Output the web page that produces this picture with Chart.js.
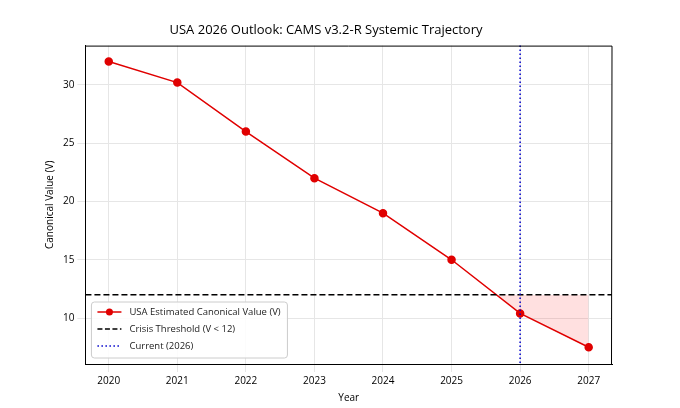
<!DOCTYPE html>
<html><head><meta charset="utf-8">
<script src="https://cdn.jsdelivr.net/npm/chart.js@4"></script>
<style>body{margin:0;background:#fff}#w{width:680px;height:408px}</style>
</head><body><div id="w"><canvas id="c"></canvas></div>
<script>
const years = [2020, 2021, 2022, 2023, 2024, 2025, 2026, 2027];
const values = [32, 30.2, 26, 22, 19, 15, 10.4, 7.5];
const threshold = 12;
const currentYear = 2026;
const legendLabels = ['USA Estimated Canonical Value (V)', 'Crisis Threshold (V < 12)', 'Current (2026)'];

const lines = {
  id: 'lines',
  afterDatasetsDraw(chart) {
    const {ctx, chartArea: a, scales: {x, y}} = chart;
    ctx.save();
    ctx.lineWidth = 1.5;
    ctx.strokeStyle = '#000';
    ctx.setLineDash([6, 3]);
    const ty = y.getPixelForValue(threshold);
    ctx.beginPath(); ctx.moveTo(a.left, ty); ctx.lineTo(a.right, ty); ctx.stroke();
    ctx.strokeStyle = '#0000cc';
    ctx.setLineDash([1.5, 2.5]);
    const cx = x.getPixelForValue(currentYear);
    ctx.beginPath(); ctx.moveTo(cx, a.top); ctx.lineTo(cx, a.bottom); ctx.stroke();
    // frame top/right
    ctx.setLineDash([]);
    ctx.strokeStyle = '#000'; ctx.lineWidth = 1;
    ctx.beginPath(); ctx.moveTo(a.left, a.top + 0.5); ctx.lineTo(a.right, a.top + 0.5); ctx.lineTo(a.right - 0.5, a.bottom); ctx.stroke();
    // legend
    const lx = a.left + 6, ly = a.bottom - 62;
    ctx.fillStyle = 'rgba(255,255,255,0.85)';
    ctx.strokeStyle = '#ccc'; ctx.lineWidth = 1;
    ctx.beginPath(); ctx.roundRect(lx, ly, 196, 56, 3); ctx.fill(); ctx.stroke();
    ctx.font = '9.5px "Open Sans"'; ctx.textBaseline = 'middle'; ctx.fillStyle = '#222';
    legendLabels.forEach((t, i) => {
      const yy = ly + 10 + i * 17;
      ctx.lineWidth = 1.5;
      if (i === 0) { ctx.strokeStyle = '#e00000'; ctx.setLineDash([]); }
      if (i === 1) { ctx.strokeStyle = '#000'; ctx.setLineDash([5, 2.5]); }
      if (i === 2) { ctx.strokeStyle = '#0000cc'; ctx.setLineDash([1.5, 2.5]); }
      ctx.beginPath(); ctx.moveTo(lx + 6, yy); ctx.lineTo(lx + 30, yy); ctx.stroke();
      if (i === 0) { ctx.fillStyle = '#e00000'; ctx.beginPath(); ctx.arc(lx + 18, yy, 3.5, 0, 7); ctx.fill(); ctx.fillStyle = '#222'; }
      ctx.fillText(t, lx + 38, yy);
    });
    ctx.restore();
  }
};

new Chart(document.getElementById('c'), {
  type: 'line',
  data: {
    datasets: [{
      data: years.map((yr, i) => ({x: yr, y: values[i]})),
      borderColor: '#e00000', backgroundColor: '#e00000',
      borderWidth: 1.5, pointRadius: 3.5, pointBackgroundColor: '#e00000',
      fill: {value: threshold, below: 'rgba(255,0,0,0.12)', above: 'rgba(0,0,0,0)'},
      tension: 0
    }]
  },
  options: {
    responsive: true, maintainAspectRatio: false, animation: false,
    layout: {padding: {left: 40, right: 68, top: 22, bottom: 0}},
    plugins: {
      legend: {display: false}, tooltip: {enabled: false},
      title: {display: true, text: 'USA 2026 Outlook: CAMS v3.2-R Systemic Trajectory',
        color: '#000', font: {family: 'Open Sans', size: 13, weight: 'normal'}, padding: {top: 0, bottom: 8}}
    },
    scales: {
      x: {type: 'linear', min: 2019.66, max: 2027.34,
        afterBuildTicks: s => { s.ticks = years.map(v => ({value: v})); },
        ticks: {color: '#000', font: {family: 'Open Sans', size: 10}, callback: v => String(v)},
        grid: {color: '#e6e6e6'}, border: {color: '#000'},
        title: {display: true, text: 'Year', color: '#000', font: {family: 'Open Sans', size: 10}, padding: {top: 2, bottom: 4}}},
      y: {min: 6.06, max: 33.37,
        afterBuildTicks: s => { s.ticks = [10, 15, 20, 25, 30].map(v => ({value: v})); },
        ticks: {color: '#000', font: {family: 'Open Sans', size: 10}},
        grid: {color: '#e6e6e6'}, border: {color: '#000'},
        title: {display: true, text: 'Canonical Value (V)', color: '#000', font: {family: 'Open Sans', size: 10}}}
    }
  },
  plugins: [lines]
});
</script></body></html>
